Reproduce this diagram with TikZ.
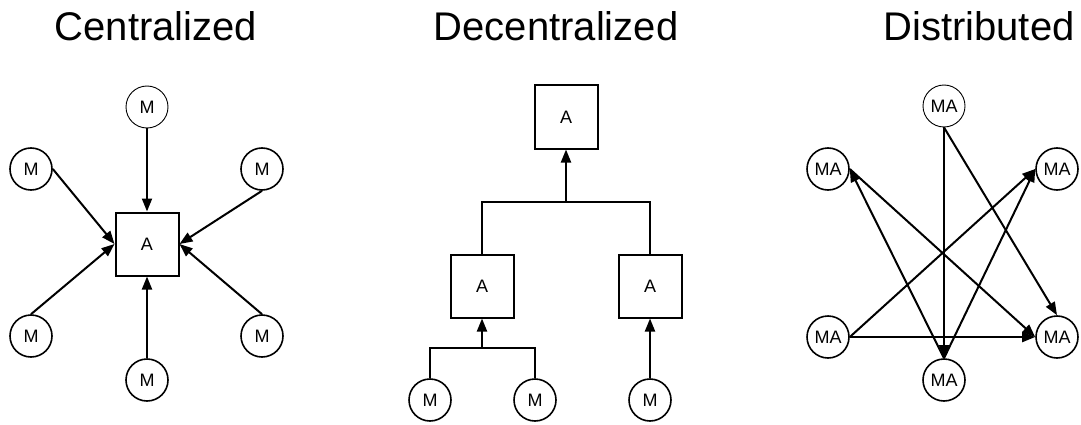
\documentclass[tikz,border=0pt]{standalone}
\usepackage{fontspec}
\setmainfont{Liberation Sans}
\usetikzlibrary{arrows.meta}
\tikzset{
agentbox/.style={draw, line width=2pt, minimum size=63pt, inner sep=0pt, font=\fontsize{18}{18}\selectfont},
modcircle/.style={draw, circle, line width=1.6pt, minimum size=42pt, inner sep=0pt, font=\fontsize{18}{18}\selectfont},
thincircle/.style={modcircle, line width=0.9pt},
flowarrow/.style={-{Triangle[length=13pt,width=10pt]}, line width=2pt},
flowline/.style={line width=2pt},
titlelabel/.style={anchor=base, font=\fontsize{40}{40}\selectfont}
}

\begin{document}
\begin{tikzpicture}[x=1pt,y=1pt]
\useasboundingbox (0,0) rectangle (1081,424);

% titles
\node[titlelabel] (tcen) at (156,383) {Centralized};
\node[titlelabel] (tdec) at (556,383) {Decentralized};
\node[titlelabel] (tdis) at (979,383) {Distributed};

% centralized
\node[agentbox] (cA) at (147,180) {A};
\node[thincircle] (cM1) at (147,317) {M};
\node[modcircle] (cM2) at (31,255) {M};
\node[modcircle] (cM3) at (262,255) {M};
\node[modcircle] (cM4) at (31,88) {M};
\node[modcircle] (cM5) at (262,88) {M};
\node[modcircle] (cM6) at (147,44) {M};
\draw[flowarrow] (cM1.south) -- (cA.north);
\draw[flowarrow] (cM2.east) -- (cA.west);
\draw[flowarrow] (cM4.north) -- (cA.west);
\draw[flowarrow] (cM3.south) -- (cA.east);
\draw[flowarrow] (cM5.north) -- (cA.east);
\draw[flowarrow] (cM6.north) -- (cA.south);

% decentralized
\node[agentbox] (dA0) at (566,307) {A};
\node[agentbox] (dA1) at (482,138) {A};
\node[agentbox] (dA2) at (650,138) {A};
\node[modcircle] (dM1) at (430,24) {M};
\node[modcircle] (dM2) at (535,24) {M};
\node[modcircle] (dM3) at (650,24) {M};
\coordinate (dJ1) at (566,222);
\coordinate (dJ2) at (482,76);
\draw[flowline] (dA1.north) |- (dJ1) -| (dA2.north);
\draw[flowarrow] (dJ1) -- (dA0.south);
\draw[flowline] (dM1.north) |- (dJ2) -| (dM2.north);
\draw[flowarrow] (dJ2) -- (dA1.south);
\draw[flowarrow] (dM3.north) -- (dA2.south);

% distributed
\node[thincircle] (mTop) at (944,318) {MA};
\node[modcircle] (mUL) at (828,255) {MA};
\node[modcircle] (mUR) at (1057,255) {MA};
\node[modcircle] (mLL) at (828,87) {MA};
\node[modcircle] (mLR) at (1057,87) {MA};
\node[modcircle] (mBot) at (944,44) {MA};
\draw[flowarrow] (mTop.south) -- (mBot.north);
\draw[flowarrow] (mTop.south) -- (mLR.north);
\draw[flowarrow] (mBot.north) -- (mUL.east);
\draw[flowarrow] (mBot.north) -- (mUR.west);
\draw[flowarrow] (mUL.east) -- (mLR.west);
\draw[flowarrow] (mLL.east) -- (mUR.west);
\draw[flowarrow] (mLL.east) -- (mLR.west);
\end{tikzpicture}
\end{document}
